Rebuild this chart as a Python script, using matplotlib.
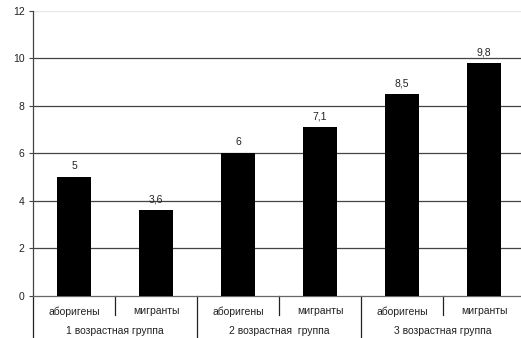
import matplotlib.pyplot as plt

plt.rcParams['font.family'] = ['Liberation Sans', 'DejaVu Sans']

# данные по группам
groups = ['1 возрастная группа', '2 возрастная  группа', '3 возрастная группа']
subgroups = ['аборигены', 'мигранты']
values = [5, 3.6, 6, 7.1, 8.5, 9.8]
value_labels = ['5', '3,6', '6', '7,1', '8,5', '9,8']
yticks = [0, 2, 4, 6, 8, 10, 12]

W, H = 521, 338
fig = plt.figure(figsize=(W / 100, H / 100), dpi=100)
ax = fig.add_axes([33 / W, (H - 295.5) / H, 492 / W, 284.5 / H])

x = list(range(len(values)))
ax.bar(x, values, width=0.42, color='black', zorder=3)
for xi, v, lab in zip(x, values, value_labels):
    ax.text(xi, v + 0.25, lab, ha='center', va='bottom', fontsize=7.5, color='#222222')

ax.set_xlim(-0.5, len(values) - 0.5)
ax.set_ylim(0, 12)
ax.set_yticks(yticks)
ax.set_yticklabels([str(t) for t in yticks], fontsize=7.5, color='#222222')
ax.tick_params(axis='y', length=3, width=0.8, color='#444444', pad=3)
ax.set_xticks([])

# линии сетки
for t in yticks[1:-1]:
    ax.axhline(t, color='#444444', lw=0.9, zorder=1)
ax.axhline(12, color='#e6e6e6', lw=0.9, zorder=1)

for side in ['top', 'right']:
    ax.spines[side].set_visible(False)
ax.spines['left'].set_color('#444444')
ax.spines['bottom'].set_color('#666666')
ax.spines['left'].set_linewidth(0.9)
ax.spines['bottom'].set_linewidth(0.9)

# двухуровневые подписи категорий
trans = ax.get_xaxis_transform()
def px(p):
    return -p / 284.5

for i in range(len(values)):
    ax.text(i, px(16), subgroups[i % 2], transform=trans, ha='center', va='center',
            fontsize=7.5, color='#222222', clip_on=False)
for g, name in enumerate(groups):
    ax.text(2 * g + 0.5, px(35.5), name, transform=trans, ha='center', va='center',
            fontsize=7.5, color='#222222', clip_on=False)

for i in range(len(values) + 1):
    xb = i - 0.5
    depth = 41 if i % 2 == 0 else 19
    ax.plot([xb, xb], [0, px(depth)], transform=trans, color='#222222', lw=0.9,
            clip_on=False)

fig.savefig('out.png', dpi=100)
